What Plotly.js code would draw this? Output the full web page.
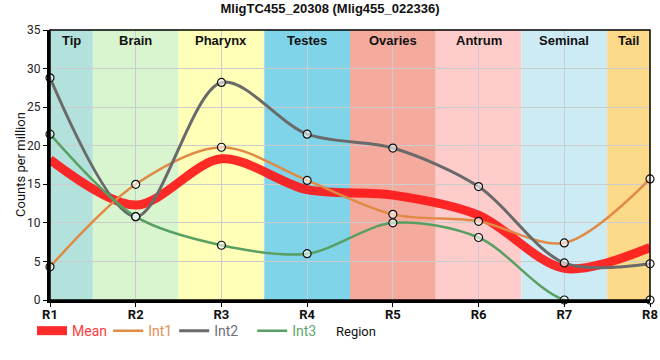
<!DOCTYPE html>
<html><head><meta charset="utf-8">
<script src="https://cdn.plot.ly/plotly-3.0.1.min.js"></script>
<style>html,body{margin:0;padding:0;background:#fff}#chart{width:660px;height:360px}</style>
</head><body><div id="chart"></div>
<script>
const regions = ['R1','R2','R3','R4','R5','R6','R7','R8'];
const meanVals = [18.2, 12.3, 18.3, 14.3, 13.6, 11.0, 4.1, 6.8];
const int1Vals = [4.3, 15.0, 19.8, 15.5, 11.1, 10.2, 7.4, 15.7];
const int2Vals = [28.8, 10.8, 28.2, 21.5, 19.7, 14.7, 4.8, 4.7];
const int3Vals = [21.5, 10.8, 7.1, 6.0, 10.0, 8.1, 0.0, 0.0];
const bandNames = ['Tip','Brain','Pharynx','Testes','Ovaries','Antrum','Seminal','Tail'];
const bandStart = [0, 0.5, 1.5, 2.5, 3.5, 4.5, 5.5, 6.5];
const bandEnd   = [0.5, 1.5, 2.5, 3.5, 4.5, 5.5, 6.5, 7];
const bandColors = ['#b3e1dc','#d8f5cf','#ffffb8','#80d4ea','#f4ab9e','#ffcccc','#cdebf5','#fdd98a'];

const xs = regions.map((r,i)=>i);
const smooth = 0.9;
function lineTrace(name, y, color, width, label, leg){
  return {x: xs, y: y, type:'scatter', mode:'lines', legend: leg, name: '<span style="color:'+label+'">'+name+'</span>',
    line:{color: color, width: width, shape:'spline', smoothing: smooth}, hoverinfo:'skip'};
}
function markTrace(y){
  return {x: xs, y: y, type:'scatter', mode:'markers', showlegend:false, cliponaxis:false,
    marker:{symbol:'circle', size:8, color:'rgba(255,255,255,0.6)', line:{color:'#111', width:1.2}}, hoverinfo:'skip'};
}
const data = [
  lineTrace('Mean', meanVals, 'rgba(255,20,20,0.9)', 9, '#ff3b3b', 'legend'),
  lineTrace('Int1', int1Vals, '#e08a45', 2.5, '#e58f52', 'legend2'),
  lineTrace('Int2', int2Vals, '#6a6a6a', 3, '#6f6f7a', 'legend3'),
  lineTrace('Int3', int3Vals, '#58a062', 2.5, '#5fa86a', 'legend4'),
  markTrace(int1Vals), markTrace(int2Vals), markTrace(int3Vals)
];

const shapes = bandNames.map((n,i)=>({type:'rect', xref:'x', yref:'paper', x0: bandStart[i], x1: bandEnd[i], y0:0, y1:1,
  fillcolor: bandColors[i], line:{width:0}, layer:'below'}));
shapes.push({type:'rect', xref:'paper', yref:'paper', x0:0, x1:1, y0:0, y1:1, line:{color:'#000', width:1.5}, layer:'above'});

const annotations = bandNames.map((n,i)=>({xref:'x', yref:'paper', x:(bandStart[i]+bandEnd[i])/2, y:1, yanchor:'top', yshift:-1,
  text:'<b>'+n+'</b>', showarrow:false, font:{family:'Liberation Sans, Arial', size:13, color:'#111'}}));
annotations.push({xref:'paper', yref:'paper', x:0.51, y:-0.115, yanchor:'middle', xanchor:'center', text:'Region', showarrow:false,
  font:{family:'Roboto', size:13, color:'#111'}});
annotations.push({xref:'paper', yref:'paper', x:-0.05, y:0.5, textangle:-90, xanchor:'center', yanchor:'middle', text:'Counts per million', showarrow:false,
  font:{family:'Roboto', size:13, color:'#111'}});

function leg(xp){
  return {orientation:'h', x:xp, xanchor:'left', y:-0.115, yanchor:'middle', font:{family:'Roboto', size:14},
    bgcolor:'rgba(0,0,0,0)', itemwidth:30};
}
const layout = {
  width:660, height:360,
  margin:{l:50, r:10, t:30, b:60},
  paper_bgcolor:'#fff', plot_bgcolor:'#fff',
  title:{text:'<b>MligTC455_20308 (Mlig455_022336)</b>', x:0.5, xanchor:'center', y:0.99, yanchor:'top',
    font:{family:'Liberation Sans, Arial', size:13, color:'#111'}},
  xaxis:{range:[0,7], tickvals: xs, ticktext: regions.map(r=>'<b>'+r+'</b>'), showgrid:true, gridcolor:'#cccccc', gridwidth:1,
    showline:true, linecolor:'#000', linewidth:3, ticks:'outside', ticklen:4, tickcolor:'#000', zeroline:false, automargin:false,
    ticklabelstandoff:-4, tickfont:{family:'Roboto', size:13, color:'#111'}},
  yaxis:{range:[0,35], dtick:5, showgrid:true, gridcolor:'#cccccc', gridwidth:1, showline:true, linecolor:'#000', linewidth:3,
    ticks:'outside', ticklen:4, tickcolor:'#000', zeroline:false, automargin:false,
    tickfont:{family:'Roboto', size:12, color:'#222'}},
  legend: leg(-0.03), legend2: leg(0.097), legend3: leg(0.207), legend4: leg(0.337),
  shapes: shapes, annotations: annotations, showlegend:true
};
Plotly.newPlot('chart', data, layout, {staticPlot:true, displayModeBar:false});
</script></body></html>
